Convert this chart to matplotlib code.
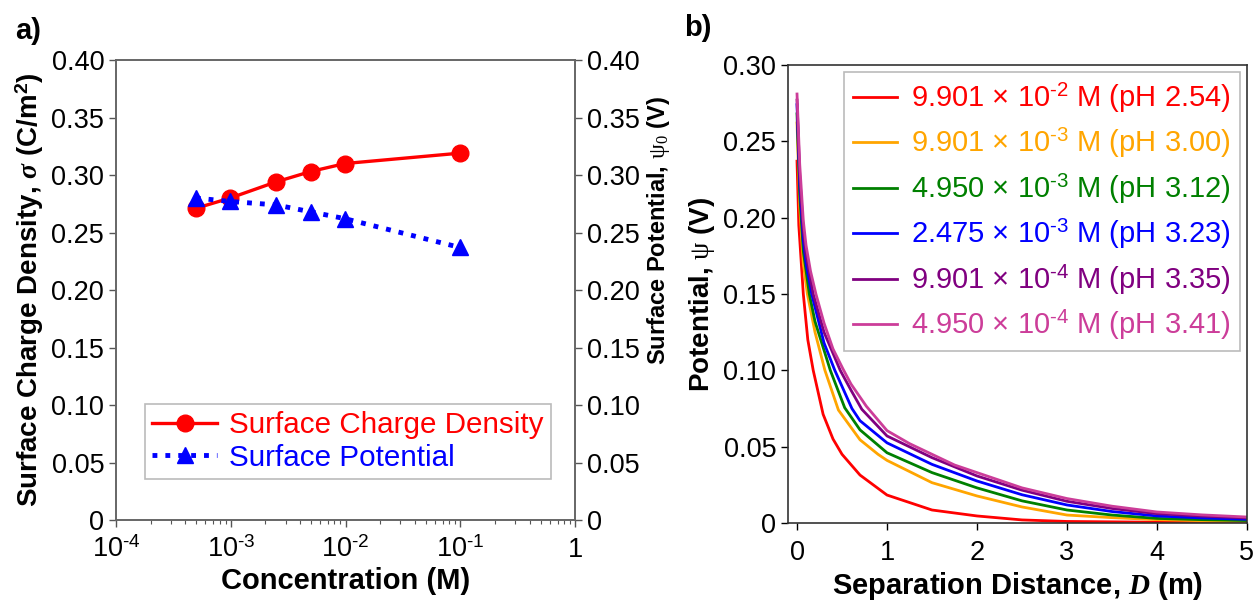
import matplotlib
matplotlib.use("Agg")
import matplotlib.pyplot as plt
from matplotlib.ticker import FuncFormatter, LogLocator, NullFormatter

plt.rcParams["font.family"] = ["Liberation Sans", "DejaVu Sans"]
plt.rcParams["mathtext.fontset"] = "custom"
plt.rcParams["mathtext.rm"] = "Liberation Sans"
plt.rcParams["mathtext.bf"] = "Liberation Sans:bold"
plt.rcParams["mathtext.it"] = "Liberation Serif:italic:bold"
plt.rcParams["mathtext.tt"] = "Liberation Serif"

# panel a data
conc = [4.950e-4, 9.901e-4, 2.475e-3, 4.950e-3, 9.901e-3, 9.901e-2]
sigma = [0.271, 0.280, 0.294, 0.303, 0.310, 0.319]
psi0 = [0.280, 0.277, 0.274, 0.268, 0.262, 0.237]

# panel b data
D_red = [0, 0.02, 0.07, 0.12, 0.18, 0.29, 0.4, 0.5, 0.7, 1.0, 1.5, 2.0, 2.5, 3.0, 4.0, 5.0]
V_red = [0.237, 0.195, 0.150, 0.120, 0.100, 0.0712, 0.055, 0.045, 0.0314, 0.0183, 0.0085, 0.0046, 0.002, 0.001, 0.0005, 0.0001]
D_orange = [0, 0.03, 0.07, 0.115, 0.2, 0.31, 0.46, 0.7, 0.9, 1.0, 1.5, 2.0, 2.5, 3.0, 3.5, 4.0, 4.5, 5.0]
V_orange = [0.262, 0.207, 0.170, 0.150, 0.125, 0.100, 0.0740, 0.0545, 0.045, 0.0410, 0.0264, 0.0177, 0.0105, 0.0052, 0.0035, 0.0022, 0.0015, 0.001]
D_green = [0, 0.03, 0.07, 0.137, 0.2, 0.37, 0.53, 0.7, 1.0, 1.5, 2.0, 2.5, 3.0, 3.5, 4.0, 4.5, 5.0]
V_green = [0.268, 0.215, 0.178, 0.150, 0.132, 0.100, 0.0755, 0.061, 0.046, 0.033, 0.023, 0.0145, 0.0085, 0.0052, 0.003, 0.0022, 0.0016]
D_blue = [0, 0.03, 0.07, 0.1, 0.163, 0.3, 0.42, 0.61, 0.7, 1.0, 1.5, 2.0, 2.5, 3.0, 3.5, 4.0, 4.5, 5.0]
V_blue = [0.274, 0.222, 0.185, 0.170, 0.150, 0.118, 0.100, 0.0750, 0.0670, 0.0525, 0.0384, 0.0275, 0.0185, 0.0118, 0.0075, 0.0046, 0.0033, 0.0024]
D_purple = [0, 0.03, 0.07, 0.1, 0.18, 0.3, 0.48, 0.6, 0.72, 1.0, 1.5, 2.0, 2.5, 3.0, 3.5, 4.0, 4.5, 5.0]
V_purple = [0.277, 0.228, 0.192, 0.176, 0.150, 0.125, 0.100, 0.087, 0.0745, 0.0570, 0.0428, 0.0308, 0.0215, 0.0142, 0.0095, 0.0061, 0.0045, 0.0033]
D_pink = [0, 0.03, 0.07, 0.1, 0.15, 0.21, 0.3, 0.4, 0.51, 0.6, 0.77, 1.0, 1.25, 1.5, 1.75, 2.0, 2.5, 3.0, 3.5, 4.0, 4.5, 5.0]
V_pink = [0.281, 0.235, 0.198, 0.182, 0.165, 0.150, 0.131, 0.114, 0.101, 0.091, 0.0765, 0.0605, 0.052, 0.045, 0.038, 0.033, 0.023, 0.016, 0.011, 0.0072, 0.0053, 0.0039]

labels_b = [r"9.901 × 10$^{\text{-2}}$ M (pH 2.54)",
            r"9.901 × 10$^{\text{-3}}$ M (pH 3.00)",
            r"4.950 × 10$^{\text{-3}}$ M (pH 3.12)",
            r"2.475 × 10$^{\text{-3}}$ M (pH 3.23)",
            r"9.901 × 10$^{\text{-4}}$ M (pH 3.35)",
            r"4.950 × 10$^{\text{-4}}$ M (pH 3.41)"]
colors_b = ["#ff0000", "#ffa500", "#008000", "#0000ff", "#800080", "#cc3d99"]

TICK = 19.5
XLAB = 21
YLAB = 20

fig = plt.figure(figsize=(12.55, 6.03), dpi=100)

def fmt(v, _):
    return "0" if abs(v) < 1e-9 else f"{v:.2f}"

# ---- panel a
ax = fig.add_axes([0.0924, 0.1376, 0.3660, 0.7629])
ax2 = ax.twinx()
l1, = ax.plot(conc, sigma, "-o", color="#ff0000", lw=2.4, ms=12, label="Surface Charge Density")
l2, = ax2.plot(conc, psi0, ":^", color="#0000ff", lw=3.5, ms=12, label="Surface Potential")
ax.set_xscale("log")
ax.set_xlim(1e-4, 1)
ax.set_ylim(0, 0.40)
ax2.set_ylim(0, 0.40)
ax.set_xticks([1e-4, 1e-3, 1e-2, 1e-1, 1],
              [r"10$^{\text{-4}}$", r"10$^{\text{-3}}$", r"10$^{\text{-2}}$", r"10$^{\text{-1}}$", "1"])
ax.xaxis.set_minor_locator(LogLocator(base=10, subs=range(2, 10), numticks=20))
ax.xaxis.set_minor_formatter(NullFormatter())
ax.set_yticks([0, 0.05, 0.1, 0.15, 0.2, 0.25, 0.3, 0.35, 0.4])
ax2.set_yticks([0, 0.05, 0.1, 0.15, 0.2, 0.25, 0.3, 0.35, 0.4])
ax.yaxis.set_major_formatter(FuncFormatter(fmt))
ax2.yaxis.set_major_formatter(FuncFormatter(fmt))
for a in (ax, ax2):
    a.tick_params(labelsize=TICK, direction="out", length=5, width=1, color="#555555")
    a.tick_params(which="minor", length=3, width=0.8, color="#555555")
    for s in a.spines.values():
        s.set_color("#666666")
        s.set_linewidth(1.2)
ax.tick_params(axis="x", pad=7)
ax.set_xlabel("Concentration (M)", fontsize=XLAB, fontweight="bold", labelpad=3)
ax.set_ylabel(r"Surface Charge Density, $\sigma$ (C/m$^\mathbf{2}$)", fontsize=YLAB, fontweight="bold", labelpad=4)
ax2.set_ylabel(r"Surface Potential, $\mathtt{\psi_0}$ (V)", fontsize=17, fontweight="bold")
ax2.yaxis.set_label_coords(1.152, 0.63)
leg = ax2.legend([l1, l2], ["Surface Charge Density", "Surface Potential"], loc="lower left",
                 bbox_to_anchor=(0.063, 0.089), borderaxespad=0, fontsize=21.3, frameon=True,
                 fancybox=False, handlelength=2.2, handletextpad=0.4, borderpad=0.25, labelspacing=0.15)
leg.get_frame().set_edgecolor("#aaaaaa")
leg.get_frame().set_linewidth(1.2)
for t, c in zip(leg.get_texts(), ["#ff0000", "#0000ff"]):
    t.set_color(c)

# ---- panel b
bx = fig.add_axes([0.6279, 0.1327, 0.3657, 0.7595])
series = [(D_red, V_red), (D_orange, V_orange), (D_green, V_green),
          (D_blue, V_blue), (D_purple, V_purple), (D_pink, V_pink)]
for (d, v), c, lab in zip(series, colors_b, labels_b):
    bx.plot(d, v, color=c, lw=2.0, label=lab)
bx.set_xlim(-0.1, 5)
bx.set_ylim(0, 0.30)
bx.set_xticks([0, 1, 2, 3, 4, 5])
bx.set_yticks([0, 0.05, 0.1, 0.15, 0.2, 0.25, 0.3])
bx.yaxis.set_major_formatter(FuncFormatter(fmt))
bx.tick_params(labelsize=TICK, direction="out", length=5, width=1)
bx.tick_params(axis="x", pad=7)
for s in bx.spines.values():
    s.set_color("#333333")
    s.set_linewidth(1.2)
bx.set_xlabel(r"Separation Distance, $D$ (m)", fontsize=XLAB, fontweight="bold", labelpad=3)
bx.set_ylabel(r"Potential, $\mathtt{\psi}$ (V)", fontsize=YLAB, fontweight="bold")
bx.yaxis.set_label_coords(-0.155, 0.5)
lg = bx.legend(loc="upper right", bbox_to_anchor=(1.0, 1.0), fontsize=21, frameon=True,
               fancybox=False, handlelength=1.5, handletextpad=0.5, borderpad=0.3,
               labelspacing=0.4, borderaxespad=0.25)
lg.get_frame().set_edgecolor("#aaaaaa")
lg.get_frame().set_linewidth(1.2)
for t, c in zip(lg.get_texts(), colors_b):
    t.set_color(c)

fig.text(0.012, 0.935, "a)", fontsize=XLAB, fontweight="bold")
fig.text(0.545, 0.94, "b)", fontsize=XLAB, fontweight="bold")

fig.savefig("out.png", dpi=100)
